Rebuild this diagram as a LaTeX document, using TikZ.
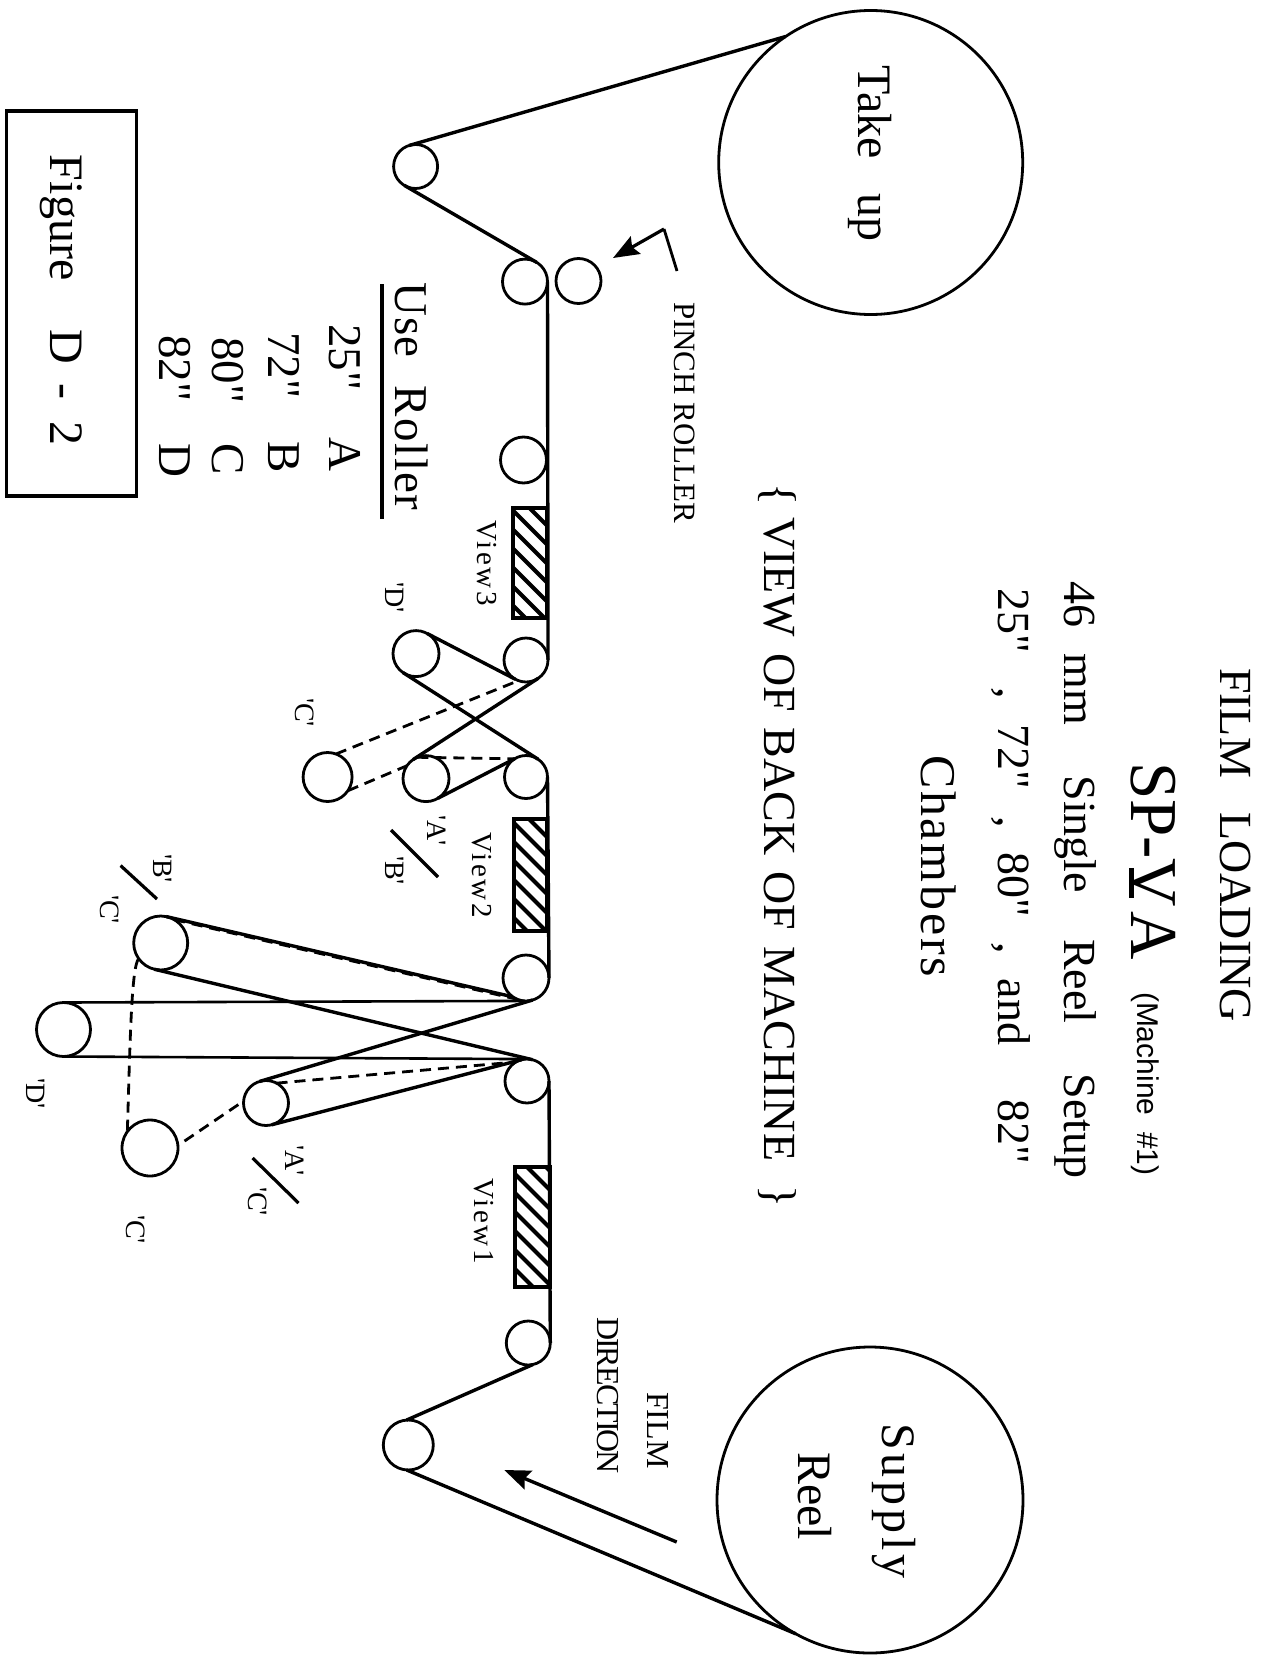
\documentclass[tikz,border=0pt]{standalone}
\usepackage{fontspec}
\usetikzlibrary{arrows.meta}
\newfontfamily\tx{Liberation Serif}
\newfontfamily\txs{Liberation Sans}
\tikzset{
  lbl/.style={rotate=-90,inner sep=0pt,outer sep=0pt,anchor=base west,font=\tx\fontsize{#1}{#1}\selectfont},
  rollr/.style={circle,draw,line width=1.4pt,inner sep=0pt,outer sep=0pt,minimum size=#1pt},
  film/.style={line width=1.7pt},
  thin film/.style={line width=1.3pt},
  dashfilm/.style={line width=1.4pt,dash pattern=on 5.5pt off 3.5pt},
  tick/.style={line width=1.6pt},
  hatchbox/.style={draw,line width=1.7pt,inner sep=0pt,outer sep=0pt,minimum width=#1*0.5pt,minimum height=55pt,
    path picture={\foreach \k in {-6,...,6}{\draw[line width=2pt] ([shift={(-50,\k*19+2.5-50)}]path picture bounding box.center) -- ++(100,100);}}},
  head/.style={-{Stealth[length=13pt,width=10pt,inset=2pt]}},
}
\begin{document}
\begin{tikzpicture}[x=0.5pt,y=-0.5pt,line cap=butt]
\fill[white] (0,0) rectangle (1274,1659);
\useasboundingbox (0,0) rectangle (1274,1659);
% reels and rollers
\node[rollr=152] (take) at (870.7,162.5) {};
\node[rollr=153] (sup) at (870,1500) {};
\node[rollr=22] (t) at (415.6,166.5) {};
\node[rollr=22.5] (p) at (525,281.6) {};
\node[rollr=22.5] (pin) at (578.5,281) {};
\node[rollr=23] (r3) at (523.5,460) {};
\node[rollr=22] (r4) at (526,660) {};
\node[rollr=23] (d1) at (416,653.6) {};
\node[rollr=24.5] (c1) at (327.6,777) {};
\node[rollr=23] (a1) at (426,778.6) {};
\node[rollr=21.5] (r5) at (526,777) {};
\node[rollr=23] (r6) at (526,978) {};
\node[rollr=27] (b1) at (160.7,943) {};
\node[rollr=27] (d2) at (63.5,1029.5) {};
\node[rollr=22.5] (a2) at (266,1103) {};
\node[rollr=28] (c2) at (150,1148) {};
\node[rollr=22] (r7) at (527,1081) {};
\node[rollr=22] (r8) at (528.3,1343) {};
\node[rollr=25] (bt) at (408.3,1445) {};
% main film path
\draw[film] (take.124) -- (t.107);
\draw[film] (t.-121) -- (p.59);
\draw[film] (p.0) -- (r4.0);
\draw[film] (r5.0) -- (r6.0);
\draw[film] (r7.0) -- (r8.0);
\draw[film] (r8.-78) -- (bt.94);
\draw[film] (bt.-94) -- (sup.-119);
% first group
\draw[film] (r4.-56) -- (a1.124);
\draw[film] (a1.-59) -- (r5.121);
\draw[film] (d1.61) -- (r4.-119);
\draw[film] (d1.-124) -- (r5.56);
\draw[dashfilm] (c1.70) -- (r4.-110);
\draw[dashfilm] (a1.112) -- (r5.122);
\draw[dashfilm] (c1.-34) -- (a1.146);
% second group
\draw[film] (b1.78) -- (r6.-125);
\draw[dashfilm] (b1.60) -- (r6.-112);
\draw[film] (b1.-104) -- (r7.76);
\draw[thin film] (d2.90) -- (r6.-95);
\draw[thin film] (d2.-90) -- (r7.95);
\draw[film] (a2.107) -- (r6.-73);
\draw[film] (a2.-75) -- (r7.104);
\draw[dashfilm] (a2.62) -- (r7.120);
\draw[dashfilm,shorten <=4pt,shorten >=3pt] (c2.5) -- (a2.175);
\draw[dashfilm] (b1.215) .. controls +(-7,10) and +(3,-100) .. (c2.144);
% hatched view boxes
\node[hatchbox=34] (v3) at (530,563) {};
\node[hatchbox=33,minimum height=56pt] (v2) at (530.5,875) {};
\node[hatchbox=35,minimum height=60pt] (v1) at (532.5,1227) {};
% tick slashes
\coordinate (ab1) at (391,830); \coordinate (ab2) at (438,877);
\coordinate (bc1) at (120.6,865.6); \coordinate (bc2) at (157,899);
\coordinate (ac1) at (252.6,1158); \coordinate (ac2) at (298.5,1203);
\draw[tick] (ab1) -- (ab2);
\draw[tick] (bc1) -- (bc2);
\draw[tick] (ac1) -- (ac2);
% arrows
\coordinate (pa1) at (677,271); \coordinate (pa2) at (664,229); \coordinate (pa3) at (613,258);
\draw[line width=1.4pt] (pa1) -- (pa2);
\draw[line width=1.6pt,head] (pa2) -- (pa3);
\coordinate (fa1) at (676.7,1542); \coordinate (fa2) at (504.3,1470);
\draw[line width=1.7pt,head] (fa1) -- (fa2);
% legend box and rule
\node[draw,line width=1.6pt,inner sep=0pt,minimum width=130*0.5pt,minimum height=385*0.5pt] (figbox) at (71.5,303.5) {};
\coordinate (ul1) at (382,284); \coordinate (ul2) at (382,519);
\draw[line width=1.6pt] (ul1) -- (ul2);
% titles
\node[lbl=23] (t1) at (1220,668) {FILM\ \ \ LOADING};
\node[lbl=33.5] (t2) at (1131,762) {SP-\rlap{\hspace{4.5pt}\rule[-1pt]{15pt}{2.5pt}}V\hspace{2pt}A};
\node[lbl=15,font=\txs\fontsize{15}{15}\selectfont] (t3) at (1137,992) {(Machine\ \ \#1)};
\node[lbl=23] (t4) at (1064.5,581) {46\hspace{13.5pt}mm\hspace{25pt}Single\hspace{23pt}Reel\hspace{25pt}Setup};
\node[lbl=23] (t5) at (998.5,588) {25"\hspace{17.5pt},\hspace{12.5pt}72"\hspace{13.5pt},\hspace{12.5pt}80"\hspace{12.5pt},\hspace{12.5pt}and\hspace{27pt}82"};
\node[lbl=25] (t6) at (921.6,755) {\addfontfeature{LetterSpace=5.5}Chambers};
\node[lbl=23] (t7) at (764,483) {\{\hspace{6pt}VIEW\hspace{8pt}OF\hspace{8pt}BACK\hspace{8pt}OF\hspace{8pt}MACHINE\hspace{12pt}\}};
% reels text
\node[lbl=24] (tk) at (858,66) {Take\hspace{17.5pt}up};
\node[lbl=24] (s1) at (882,1423) {\addfontfeature{LetterSpace=8}Supply};
\node[lbl=24] (s2) at (798,1452) {Reel};
% small labels
\node[lbl=15.5] (pr) at (674,302) {PINCH ROLLER};
\node[lbl=16] (fl) at (647.3,1392) {FILM};
\node[lbl=16] (dr) at (597,1317) {\addfontfeature{LetterSpace=-6}DIRECTION};
\node[lbl=14.5] (v3t) at (477.5,520) {\addfontfeature{LetterSpace=9}View3};
\node[lbl=14.5] (v2t) at (472.6,832) {\addfontfeature{LetterSpace=9}View2};
\node[lbl=14.5] (v1t) at (474.5,1178) {\addfontfeature{LetterSpace=9}View1};
\node[lbl=14] (q1) at (385,582) {'D'};
\node[lbl=14] (q2) at (295,698) {'C'};
\node[lbl=14] (q3) at (427,815) {'A'};
\node[lbl=14] (q4) at (385,856) {'B'};
\node[lbl=14] (q5) at (153,854) {'B'};
\node[lbl=14] (q6) at (100,895) {'C'};
\node[lbl=14] (q7) at (26,1078) {'D'};
\node[lbl=14] (q8) at (285,1145) {'A'};
\node[lbl=14] (q9) at (248,1187) {'C'};
\node[lbl=14] (q10) at (126,1215) {'C'};
% roller table
\node[lbl=23.5] (u0) at (395,282) {\addfontfeature{LetterSpace=3}Use\hspace{14pt}Roller};
\node[lbl=23.5] (u1) at (329.7,324) {25"\hspace{23.5pt}A};
\node[lbl=23.5] (u2) at (268.6,332) {72"\hspace{21.5pt}B};
\node[lbl=23.5] (u3) at (212,337) {80"\hspace{20pt}C};
\node[lbl=23.5] (u4) at (159.3,335) {82"\hspace{21pt}D};
\node[lbl=24] (fg) at (50.5,155) {Figure\hspace{24.5pt}D\hspace{10pt}-\hspace{11pt}2};
\end{tikzpicture}
\end{document}
